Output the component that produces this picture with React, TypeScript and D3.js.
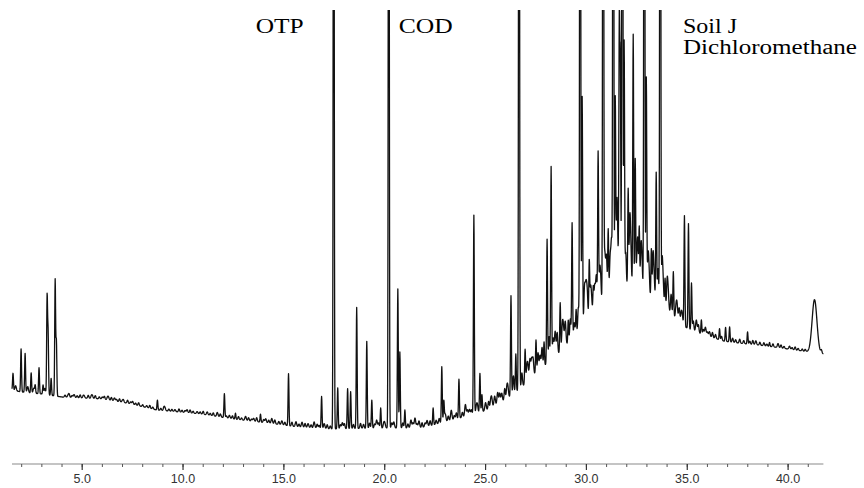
import React from "react";
import * as d3 from "d3";

// ---- data (retention time in minutes, abundance in arbitrary units) ----
const baseTimes = [1.5, 2.0, 3.0, 4.0, 6.0, 7.2, 8.7, 10.9, 12.5, 14.2, 15.7, 17.3, 19.8, 21.8, 22.6, 24.1, 25.1, 26.0, 26.8, 27.6, 28.6, 29.2, 30.1, 30.9, 31.6, 32.0, 32.6, 33.5, 34.0, 34.7, 35.3, 36.0, 36.8, 37.5, 38.5, 39.3, 40.0, 40.7, 41.8];
const baseLevels = [50, 48, 46, 43, 41, 37, 30, 26, 21, 17, 13, 11, 12, 12, 16, 24, 30, 40, 53, 69, 86, 99, 118, 137, 155, 152, 144, 137, 130, 115, 109, 104, 99, 97, 95, 93, 91, 89, 86];

// sharp peaks: retention time and height above baseline (values >= 1000 are off-scale)
const peakTimes = [
  1.57, 1.97, 2.17, 2.47, 2.67, 2.86, 3.06, 3.26, 3.31, 3.46, 3.66, 3.72,
  8.73, 12.05, 12.6, 13.84, 15.23, 16.87, 17.47, 17.67, 18.16, 18.31, 18.61, 19.11, 19.36, 19.8,
  20.2, 20.65, 20.75, 21.0, 22.4, 22.83, 22.93, 23.68, 24.42, 24.72, 24.82,
  26.26, 26.5, 26.66, 26.96, 27.5, 27.9, 28.05, 28.25, 28.7, 29.1, 29.29, 29.49, 29.69, 29.79,
  30.14, 30.34, 30.58, 30.83, 31.08, 31.33, 31.43, 31.63, 31.68, 31.78, 31.87, 32.07, 32.32, 32.42,
  32.62, 32.87, 32.97, 33.22, 33.46, 33.66, 33.9, 34.31, 34.86, 35.06, 35.21, 35.7,
  36.6, 36.9, 37.1, 37.99, 39.08
];
const peakHeights = [
  17, 43, 39, 20, 8, 26, 9, 97, 60, 17, 116, 55,
  10, 24, 6, 8, 52, 32, 1000, 41, 40, 37, 121, 87, 28, 20,
  1000, 139, 76, 18, 17, 56, 21, 39, 199, 39, 17,
  100, 38, 1000, 34, 33, 24, 124, 193, 49, 23, 116, 25, 1000, 232,
  58, 27, 157, 1000, 68, 1000, 190, 258, 215, 1000, 246, 99, 258, 133,
  66, 1000, 221, 51, 130, 1000, 30, 45, 111, 105, 47, 14,
  11, 14, 15, 12, 4
];

// small bumps along the trace
const minorTimes = [
  1.7, 2.3, 2.6, 3.15, 4.3, 4.6, 5.1, 5.5, 6.0, 6.3, 6.6, 7.0, 7.5, 8.2, 9.1, 9.6, 10.2, 10.7, 11.2, 11.7,
  12.3, 13.1, 13.5, 14.1, 14.4, 14.9, 15.6, 15.9, 16.2, 16.5, 17.0, 17.9, 19.6, 20.0, 20.45, 21.3, 21.5, 21.7,
  22.1, 23.0, 23.3, 24.0, 24.2, 24.55, 25.0, 25.3, 25.45, 25.6, 25.8, 26.1, 27.05, 27.2, 27.35, 27.7, 28.35,
  28.45, 28.85, 28.95, 29.4, 29.95, 30.0, 30.25, 30.45, 30.7, 30.95, 31.18, 31.53, 32.2, 32.5, 32.75, 33.1,
  33.35, 33.8, 34.05, 34.45, 34.6, 34.75, 35.45, 35.9, 36.1, 38.4, 39.5, 40.07
];
const minorHeights = [
  5, 6, 5, 6, 2, 3, 2, 3, 2, 3, 3, 2, 3, 2, 3, 2, 3, 2, 3, 4,
  3, 4, 3, 4, 5, 4, 5, 5, 4, 6, 5, 6, 8, 5, 6, 8, 10, 7,
  6, 8, 10, 12, 6, 8, 8, 10, 10, 12, 9, 12, 15, 20, 18, 14, 20,
  25, 22, 25, 14, 25, 30, 20, 18, 30, 25, 40, 60, 40, 30, 35, 30,
  25, 25, 20, 15, 15, 10, 12, 8, 5, 4, 4, 3
];

// fine jitter of the trace, read as tiny spikes
const jitterTimes = [
  4.15, 4.35, 4.5, 4.75, 4.9, 5.05, 5.3, 5.45, 5.65, 5.85, 6.1, 6.25, 6.45, 6.7, 6.85, 7.05, 7.25, 7.4, 7.65, 7.8,
  8.0, 8.35, 8.5, 8.9, 9.05, 9.3, 9.45, 9.8, 9.95, 10.1, 10.35, 10.5, 10.85, 11.0, 11.35, 11.5, 11.85, 12.15, 12.45, 12.75,
  12.9, 13.25, 13.4, 13.65, 14.0, 14.25, 14.55, 14.75, 15.05, 15.4, 15.75, 16.05, 16.35, 16.65, 16.75, 17.15, 17.3, 17.8, 18.0, 18.45,
  18.8, 18.95, 19.25, 19.5, 19.7, 19.95, 20.35, 20.9, 21.15, 21.4, 21.6, 21.85, 22.0, 22.25, 22.55, 22.7, 23.15, 23.45, 23.55, 23.85,
  24.1, 24.3, 24.6, 25.15, 25.25, 25.7, 25.95, 26.05, 26.38, 26.8, 27.1, 27.28, 27.6, 27.8, 28.15, 28.55, 28.8, 29.2, 29.6, 29.9,
  30.05, 30.2, 30.4, 30.5, 30.65, 30.9, 31.0, 31.25, 31.5, 31.95, 32.15, 32.55, 32.7, 33.05, 33.3, 33.55, 33.75, 34.0, 34.2, 34.5,
  34.7, 35.3, 35.55, 35.8, 36.0, 36.25, 36.4, 36.7, 37.25, 37.4, 37.6, 37.8, 38.1, 38.25, 38.6, 38.8, 38.95, 39.25, 39.65, 39.8,
  40.2, 40.35, 40.5, 40.7, 40.85, 41.65
];
const jitterHeights = [
  2, 3, 2, 2, 3, 2, 3, 2, 3, 2, 3, 2, 3, 2, 3, 2, 3, 2, 2, 3,
  2, 3, 2, 2, 3, 2, 2, 3, 2, 2, 3, 2, 2, 3, 2, 3, 3, 2, 3, 3,
  2, 3, 2, 4, 3, 3, 4, 3, 3, 4, 3, 4, 3, 4, 3, 4, 3, 4, 5, 4,
  5, 4, 5, 4, 5, 4, 5, 5, 4, 5, 4, 5, 4, 5, 4, 5, 5, 4, 6, 5,
  6, 5, 6, 8, 6, 10, 12, 9, 18, 14, 12, 16, 18, 20, 25, 22, 18, 22, 25, 30,
  20, 25, 22, 30, 28, 40, 35, 50, 40, 35, 60, 45, 40, 35, 40, 35, 40, 25, 20, 12,
  10, 10, 8, 5, 4, 5, 4, 4, 4, 3, 4, 3, 3, 4, 3, 3, 2, 3, 3, 2,
  2, 3, 2, 2, 2, 3
];

// broad late-eluting peak
const broadTimes = [41.31];
const broadHeights = [53];

const tickLabels = ["5.0", "10.0", "15.0", "20.0", "25.0", "30.0", "35.0", "40.0"];
const majorTicks = [5, 10, 15, 20, 25, 30, 35, 40];
const minorTicks = d3.range(2, 42, 1);

const labels = [
  { text: "OTP", t: 17.47 },
  { text: "COD", t: 20.2 },
];

const W = 864;
const H = 488;

export default function App() {
  const x = d3.scaleLinear().domain([1.5, 41.75]).range([11.6, 823.4]);
  const y = d3.scaleLinear().domain([0, 430]).range([440, 10]);
  const base = d3.scaleLinear().domain(baseTimes).range(baseLevels).clamp(true);

  const g = (t: number, c: number, h: number, s: number) => {
    const d = (t - c) / s;
    if (Math.abs(d) > 6) return 0;
    return h * Math.exp(-0.5 * d * d);
  };

  const times = d3.range(1.52, 41.76, 0.01);
  const signal: [number, number][] = times.map((t) => {
    let v = base(t);
    for (let i = 0; i < peakTimes.length; i++) v += g(t, peakTimes[i], peakHeights[i], 0.022);
    for (let i = 0; i < minorTimes.length; i++) v += g(t, minorTimes[i], minorHeights[i], 0.035);
    for (let i = 0; i < jitterTimes.length; i++) v += g(t, jitterTimes[i], jitterHeights[i], 0.03);
    for (let i = 0; i < broadTimes.length; i++) v += g(t, broadTimes[i], broadHeights[i], 0.12);
    return [t, v];
  });

  const line = d3
    .line<[number, number]>()
    .x((d) => x(d[0]))
    .y((d) => y(d[1]));

  const axisY = 464;

  return (
    <svg
      width={W}
      height={H}
      style={{ position: "absolute", left: 0, top: 0, background: "#fff" }}
    >
      <defs>
        <clipPath id="plotclip">
          <rect x={0} y={10} width={W} height={H - 10} />
        </clipPath>
      </defs>
      <rect x={0} y={0} width={W} height={H} fill="#fff" />
      <path
        d={line(signal) || ""}
        fill="none"
        stroke="#111"
        strokeWidth={1.3}
        strokeLinejoin="round"
        clipPath="url(#plotclip)"
      />
      {/* axis */}
      <line x1={x(1.52)} x2={x(41.75)} y1={axisY} y2={axisY} stroke="#8a8a8a" strokeWidth={1.2} />
      {minorTicks.map((t) => (
        <line key={"m" + t} x1={x(t)} x2={x(t)} y1={axisY} y2={axisY + 3} stroke="#555" strokeWidth={1} />
      ))}
      {majorTicks.map((t, i) => (
        <g key={"M" + t}>
          <line x1={x(t)} x2={x(t)} y1={axisY} y2={axisY + 6} stroke="#333" strokeWidth={1.2} />
          <text
            x={x(t)}
            y={483}
            textAnchor="middle"
            fontFamily="Liberation Sans, Arial, sans-serif"
            fontSize={12.5}
            fill="#333"
          >
            {tickLabels[i]}
          </text>
        </g>
      ))}
      {/* annotations */}
      <text x={x(labels[0].t) - 78} y={33} fontFamily="Liberation Serif, Times New Roman, serif" fontSize={20} textLength={48} lengthAdjust="spacingAndGlyphs" fill="#000">
        {labels[0].text}
      </text>
      <text x={x(labels[1].t) + 10} y={33} fontFamily="Liberation Serif, Times New Roman, serif" fontSize={20} textLength={54} lengthAdjust="spacingAndGlyphs" fill="#000">
        {labels[1].text}
      </text>
      <text x={683} y={33} fontFamily="Liberation Serif, Times New Roman, serif" fontSize={20} textLength={54} lengthAdjust="spacingAndGlyphs" fill="#000">
        Soil J
      </text>
      <text x={683} y={54} fontFamily="Liberation Serif, Times New Roman, serif" fontSize={20} textLength={174} lengthAdjust="spacingAndGlyphs" fill="#000">
        Dichloromethane
      </text>
    </svg>
  );
}
